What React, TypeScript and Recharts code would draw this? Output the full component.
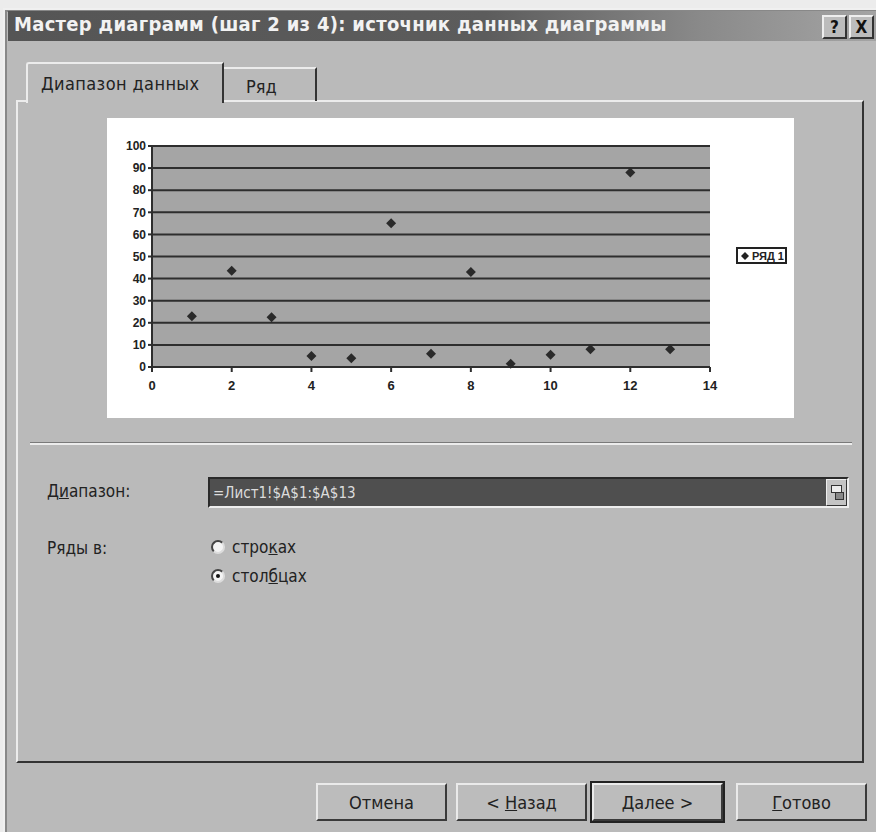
import React from "react";
import { ScatterChart, Scatter, XAxis, YAxis, CartesianGrid, Legend } from "recharts";

const xValues = [1, 2, 3, 4, 5, 6, 7, 8, 9, 10, 11, 12, 13];
const yValues = [23, 43.5, 22.5, 5, 4, 65, 6, 43, 1.5, 5.5, 8, 88, 8];
const xTicks = [0, 2, 4, 6, 8, 10, 12, 14];
const yTicks = [0, 10, 20, 30, 40, 50, 60, 70, 80, 90, 100];
const seriesName = "РЯД 1";

const data = xValues.map((x, i) => ({ x, y: yValues[i] }));

const uiFont = "'DejaVu Sans Condensed', 'DejaVu Sans', sans-serif";

const Diamond = (props: any) => {
  const { cx, cy } = props;
  const r = 5;
  return (
    <polygon
      points={`${cx},${cy - r} ${cx + r},${cy} ${cx},${cy + r} ${cx - r},${cy}`}
      fill="#2a2a2a"
    />
  );
};

const LegendBox = () => (
  <div
    style={{
      border: "2px solid #222",
      background: "#fff",
      padding: "0 3px",
      height: 17,
      boxSizing: "border-box",
      fontFamily: "'Liberation Sans Narrow', 'Liberation Sans', Arial, sans-serif",
      fontWeight: 700,
      fontSize: 11,
      color: "#222",
      whiteSpace: "nowrap",
      display: "flex",
      alignItems: "center",
      gap: 3,
      width: 51,
    }}
  >
    <svg width={8} height={8} style={{ flexShrink: 0 }}>
      <polygon points="4,0 8,4 4,8 0,4" fill="#222" />
    </svg>
    <span>{seriesName}</span>
  </div>
);

const abs = (l: number, t: number, w: number, h: number): React.CSSProperties => ({
  position: "absolute",
  left: l,
  top: t,
  width: w,
  height: h,
  boxSizing: "border-box",
});

const Button = ({ l, label, isDefault }: { l: number; label: React.ReactNode; isDefault?: boolean }) => (
  <div
    style={{
      ...abs(l, 783, 131, 38),
      background: "#bcbcbc",
      borderTop: "2px solid #eaeaea",
      borderLeft: "2px solid #eaeaea",
      borderRight: "2px solid #3a3a3a",
      borderBottom: "2px solid #3a3a3a",
      outline: isDefault ? "2px solid #222" : "none",
      display: "flex",
      alignItems: "center",
      justifyContent: "center",
      fontFamily: uiFont,
      fontSize: 18,
      color: "#222",
    }}
  >
    <span style={{ whiteSpace: "pre" }}>{label}</span>
  </div>
);

export default function App() {
  return (
    <div style={{ position: "absolute", left: 0, top: 0, width: 876, height: 832, background: "#ececec", overflow: "hidden" }}>
      {/* dialog frame */}
      <div style={{ ...abs(3, 8, 880, 830), background: "#bababa", borderTop: "2px solid #f0f0f0", borderLeft: "2px solid #f0f0f0", boxShadow: "inset 2px 2px 0 #888" }} />
      {/* title bar */}
      <div style={{ ...abs(8, 11, 868, 30), background: "linear-gradient(to right, #555 0%, #5c5c5c 55%, #8a8a8a 80%, #a4a4a4 100%)" }} />
      <div
        style={{
          position: "absolute",
          left: 14,
          top: 12,
          fontFamily: uiFont,
          fontWeight: 700,
          fontSize: 20,
          letterSpacing: 0.3,
          color: "#f2f2f2",
          whiteSpace: "nowrap",
        }}
      >
        Мастер диаграмм (шаг 2 из 4): источник данных диаграммы
      </div>
      {[
        { l: 822, t: "?" },
        { l: 849, t: "X" },
      ].map((b) => (
        <div
          key={b.t}
          style={{
            ...abs(b.l, 15, 25, 24),
            background: "#bcbcbc",
            borderTop: "2px solid #eee",
            borderLeft: "2px solid #eee",
            borderRight: "2px solid #333",
            borderBottom: "2px solid #333",
            fontFamily: uiFont,
            fontWeight: 700,
            fontSize: 17,
            color: "#111",
            display: "flex",
            alignItems: "center",
            justifyContent: "center",
          }}
        >
          {b.t}
        </div>
      ))}

      {/* tab panel */}
      <div
        style={{
          ...abs(16, 100, 848, 663),
          borderTop: "2px solid #ececec",
          borderLeft: "2px solid #ececec",
          borderRight: "2px solid #333",
          borderBottom: "2px solid #333",
        }}
      />
      {/* tabs */}
      <div
        style={{
          ...abs(26, 62, 198, 41),
          background: "#bababa",
          borderTop: "2px solid #ececec",
          borderLeft: "2px solid #ececec",
          borderRight: "2px solid #333",
          borderTopLeftRadius: 3,
          fontFamily: uiFont,
          fontSize: 18,
          letterSpacing: 0.4,
          color: "#222",
          paddingLeft: 13,
          paddingTop: 9,
          whiteSpace: "nowrap",
        }}
      >
        Диапазон данных
      </div>
      <div
        style={{
          ...abs(224, 67, 93, 34),
          borderTop: "2px solid #ececec",
          borderRight: "2px solid #333",
          fontFamily: uiFont,
          fontSize: 18,
          color: "#222",
          paddingLeft: 22,
          paddingTop: 7,
        }}
      >
        Ряд
      </div>

      {/* chart preview */}
      <div style={{ ...abs(107, 118, 687, 300), background: "#ffffff" }}>
        <ScatterChart width={687} height={300} margin={{ top: 28, right: 33, bottom: 21, left: 0 }}>
          <CartesianGrid
            vertical={false}
            horizontal={true}
            horizontalValues={yTicks}
            stroke="#2e2e2e"
            strokeWidth={2}
            fill="#a5a5a5"
            fillOpacity={1}
          />
          <XAxis
            type="number"
            dataKey="x"
            domain={[0, 14]}
            ticks={xTicks}
            interval={0}
            height={30}
            axisLine={{ stroke: "#2e2e2e", strokeWidth: 2 }}
            tickLine={{ stroke: "#2e2e2e", strokeWidth: 2 }}
            tickSize={5}
            tick={{ fill: "#222", fontSize: 13, fontWeight: 700, fontFamily: "'Liberation Sans', Arial, sans-serif" }}
            tickMargin={9}
          />
          <YAxis
            type="number"
            dataKey="y"
            domain={[0, 100]}
            ticks={yTicks}
            interval={0}
            width={45}
            axisLine={{ stroke: "#2e2e2e", strokeWidth: 2 }}
            tickLine={{ stroke: "#2e2e2e", strokeWidth: 2 }}
            tickSize={4}
            tick={{ fill: "#222", fontSize: 12, fontWeight: 700, fontFamily: "'Liberation Sans Narrow', 'Liberation Sans', Arial, sans-serif" }}
            tickMargin={2}
          />
          <Legend
            layout="horizontal"
            verticalAlign="middle"
            align="right"
            content={<LegendBox />}
            wrapperStyle={{ position: "absolute", left: 629, top: 129, width: 51, right: "auto", bottom: "auto" }}
          />
          <Scatter name={seriesName} data={data} shape={<Diamond />} isAnimationActive={false} />
        </ScatterChart>
      </div>

      {/* separator */}
      <div style={{ ...abs(30, 442, 822, 3), borderTop: "1px solid #7a7a7a", borderBottom: "2px solid #ececec" }} />

      {/* range */}
      <div style={{ position: "absolute", left: 47, top: 481, fontFamily: uiFont, fontSize: 17, color: "#222" }}>
        Д<u>и</u>апазон:
      </div>
      <div
        style={{
          ...abs(208, 477, 641, 31),
          background: "#4f4f4f",
          borderTop: "2px solid #2a2a2a",
          borderLeft: "2px solid #2a2a2a",
          borderRight: "2px solid #eee",
          borderBottom: "2px solid #eee",
          fontFamily: "'Liberation Sans Narrow', 'DejaVu Sans Condensed', sans-serif",
          fontSize: 15,
          color: "#dcdcdc",
          paddingLeft: 3,
          paddingTop: 5,
        }}
      >
        =Лист1!$A$1:$A$13
      </div>
      <div
        style={{
          ...abs(826, 479, 21, 27),
          background: "#c4c4c4",
          borderTop: "1px solid #eee",
          borderLeft: "1px solid #eee",
          borderRight: "1px solid #333",
          borderBottom: "1px solid #333",
        }}
      >
        <div style={{ ...abs(4, 5, 11, 8), border: "1px solid #333", background: "#eee" }} />
        <div style={{ ...abs(8, 12, 9, 8), border: "1px solid #333", background: "#888" }} />
      </div>

      {/* series in */}
      <div style={{ position: "absolute", left: 47, top: 538, fontFamily: uiFont, fontSize: 17, color: "#222" }}>
        Ряды в:
      </div>
      {[
        { t: 537, label: <>стро<u>к</u>ах</>, on: false },
        { t: 566, label: <>стол<u>б</u>цах</>, on: true },
      ].map((r, i) => (
        <div key={i} style={{ position: "absolute", left: 211, top: r.t, display: "flex", alignItems: "center", gap: 7, fontFamily: uiFont, fontSize: 17, color: "#222" }}>
          <div
            style={{
              width: 14,
              height: 14,
              borderRadius: 7,
              background: "#f4f4f4",
              border: "2px solid #444",
              borderRightColor: "#ddd",
              borderBottomColor: "#ddd",
              boxSizing: "border-box",
              display: "flex",
              alignItems: "center",
              justifyContent: "center",
            }}
          >
            {r.on && <div style={{ width: 4, height: 4, borderRadius: 2, background: "#111" }} />}
          </div>
          <span>{r.label}</span>
        </div>
      ))}

      {/* buttons */}
      <Button l={316} label="Отмена" />
      <Button l={456} label={<>{"< "}<u>Н</u>азад</>} />
      <Button l={592} label={<><u>Д</u>алее{" >"}</>} isDefault />
      <Button l={736} label={<><u>Г</u>отово</>} />
    </div>
  );
}
